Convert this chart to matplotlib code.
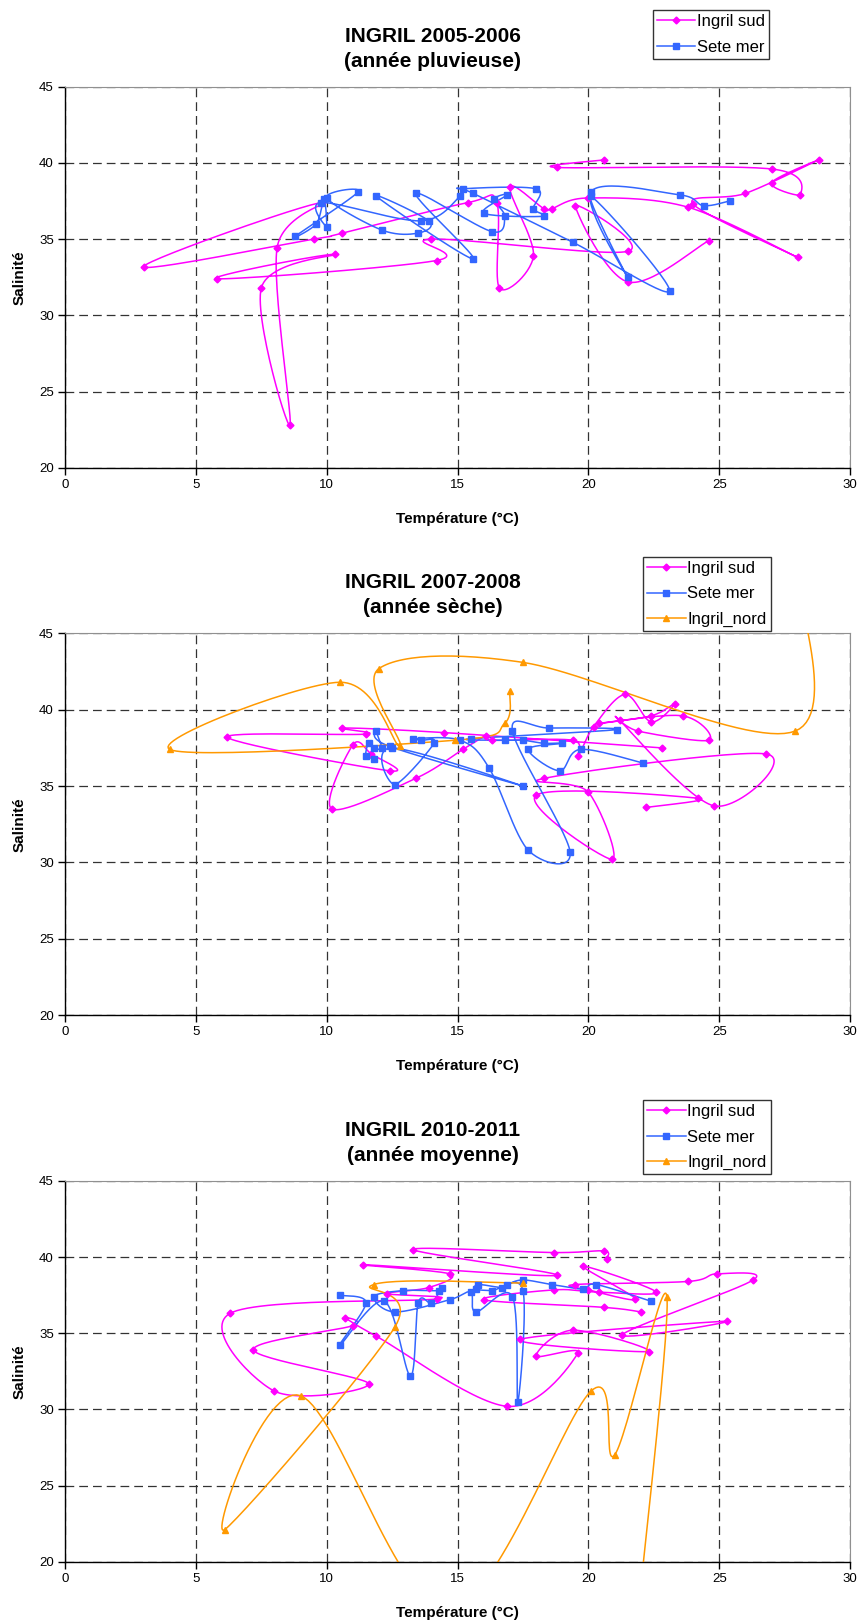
import numpy as np
import matplotlib
matplotlib.use("Agg")
import matplotlib.pyplot as plt
from matplotlib.lines import Line2D

plt.rcParams['font.family'] = ['Liberation Sans', 'DejaVu Sans']

# ---- 2005-2006 (annee pluvieuse) ----
temp_sud_0506 = [20.6, 18.8, 27.0, 28.1, 27.0, 28.8, 26.0, 24.0, 28.0, 23.8, 20.0, 18.6, 18.3, 17.0, 17.9, 16.6, 16.5,
                 15.4, 10.6, 9.5, 3.0, 9.8, 8.1, 8.6, 7.5, 10.3, 5.8, 14.2, 14.0, 21.5, 19.5, 21.5, 24.6]
sal_sud_0506 = [40.2, 39.7, 39.6, 37.9, 38.7, 40.2, 38.0, 37.3, 33.8, 37.1, 37.7, 37.0, 37.0, 38.4, 33.9, 31.8, 37.4,
                37.4, 35.4, 35.0, 33.2, 37.4, 34.4, 22.8, 31.8, 34.0, 32.4, 33.6, 35.0, 34.2, 37.2, 32.2, 34.9]
temp_sete_0506 = [25.4, 24.4, 23.5, 20.1, 21.5, 20.1, 23.1, 19.4, 15.6, 15.2, 18.0, 17.9, 18.3, 16.0, 16.9, 16.4, 16.8,
                  16.3, 13.4, 15.6, 11.9, 13.9, 13.5, 12.1, 10.0, 11.2, 8.8, 9.6, 9.9, 10.0, 9.8, 13.6, 15.1]
sal_sete_0506 = [37.5, 37.2, 37.9, 38.1, 32.5, 37.8, 31.6, 34.8, 38.0, 38.3, 38.3, 37.0, 36.5, 36.7, 37.9, 37.6, 36.5,
                 35.5, 38.0, 33.7, 37.8, 36.2, 35.4, 35.6, 37.7, 38.1, 35.2, 36.0, 37.6, 35.8, 37.4, 36.2, 37.8]

# ---- 2007-2008 (annee seche) ----
temp_sud_0708 = [22.8, 14.5, 10.6, 11.5, 6.2, 12.4, 11.7, 11.0, 10.2, 13.4, 15.2, 16.1, 16.3, 19.4, 19.6, 20.2, 21.4,
                 22.4, 23.3, 22.4, 20.4, 23.6, 24.6, 21.9, 21.2, 24.8, 26.8, 18.3, 20.0, 20.9, 18.0, 24.2, 22.2]
sal_sud_0708 = [37.5, 38.5, 38.8, 38.4, 38.2, 36.0, 37.1, 37.7, 33.5, 35.5, 37.4, 38.3, 38.0, 38.0, 37.0, 38.9, 41.0,
                39.2, 40.4, 39.6, 39.1, 39.6, 38.0, 38.6, 39.3, 33.7, 37.1, 35.5, 34.6, 30.2, 34.4, 34.2, 33.6]
temp_sete_0708 = [11.8, 11.5, 11.6, 11.8, 12.1, 11.9, 12.4, 17.5, 12.5, 12.6, 14.1, 13.6, 13.3, 15.1, 16.2, 17.7, 19.3,
                  17.1, 18.5, 21.1, 15.5, 16.8, 17.5, 18.3, 19.0, 17.7, 18.9, 19.7, 22.1]
sal_sete_0708 = [36.8, 37.0, 37.8, 37.5, 37.5, 38.6, 37.6, 35.0, 37.5, 35.1, 37.8, 38.0, 38.1, 38.0, 36.2, 30.8, 30.7,
                 38.6, 38.8, 38.7, 38.1, 38.0, 38.0, 37.8, 37.8, 37.4, 36.0, 37.4, 36.5]
temp_nord_0708 = [17.0, 16.8, 14.9, 4.0, 10.5, 12.8, 12.0, 17.5, 27.9, 27.8]
sal_nord_0708 = [41.2, 39.1, 38.0, 37.4, 41.8, 37.6, 42.7, 43.1, 38.6, 50.0]

# ---- 2010-2011 (annee moyenne) ----
temp_sud_1011 = [20.7, 20.6, 18.7, 13.3, 18.8, 11.4, 14.7, 13.9, 12.3, 14.2, 6.3, 8.0, 11.6, 7.2, 11.0, 10.7, 11.9,
                 16.9, 19.6, 18.0, 19.4, 22.3, 17.4, 25.3, 21.3, 26.3, 24.9, 23.8, 19.5, 20.0, 21.8, 19.8, 22.6,
                 20.4, 18.7, 16.0, 20.6, 22.0]
sal_sud_1011 = [39.9, 40.4, 40.3, 40.5, 38.8, 39.5, 38.9, 38.0, 37.6, 37.25, 36.3, 31.2, 31.7, 33.9, 35.5, 36.0, 34.8,
                30.2, 33.7, 33.5, 35.2, 33.8, 34.6, 35.8, 34.9, 38.5, 38.9, 38.4, 38.2, 37.85, 37.25, 39.4, 37.7,
                37.7, 37.85, 37.2, 36.7, 36.4]
temp_sete_1011 = [10.5, 11.5, 10.5, 12.2, 13.2, 13.5, 14.0, 14.4, 14.3, 12.9, 11.8, 12.6, 14.7, 15.5, 15.7, 17.1, 17.3,
                  17.5, 16.3, 15.7, 15.8, 16.7, 16.9, 17.5, 18.6, 19.8, 20.3, 22.4]
sal_sete_1011 = [37.5, 37.0, 34.2, 37.1, 32.2, 37.0, 37.0, 38.0, 37.8, 37.8, 37.4, 36.4, 37.2, 37.7, 36.4, 37.4, 30.5,
                 37.8, 37.8, 37.9, 38.2, 38.0, 38.2, 38.5, 38.2, 37.9, 38.2, 37.1]
temp_nord_1011 = [17.5, 11.8, 12.6, 6.1, 9.0, 14.6, 20.1, 21.0, 23.0, 21.8]
sal_nord_1011 = [38.3, 38.2, 35.4, 22.1, 30.9, 16.8, 31.2, 27.0, 37.4, 15.0]

titles = ["INGRIL 2005-2006\n(année pluvieuse)",
          "INGRIL 2007-2008\n(année sèche)",
          "INGRIL 2010-2011\n(année moyenne)"]

MAGENTA = '#FF00FF'
BLUE = '#3366FF'
ORANGE = '#FF9900'


def smooth_curve(x, y, n=30):
    # bezier smoothing through every point (catmull-rom style, like spreadsheet "smoothed lines")
    pts = np.column_stack([x, y]).astype(float)
    P = np.vstack([pts[0], pts, pts[-1]])
    t = np.linspace(0, 1, n)[:, None]
    out = []
    for i in range(1, len(P) - 2):
        p0, p1, p2, p3 = P[i - 1], P[i], P[i + 1], P[i + 2]
        c1 = p1 + (p2 - p0) / 6
        c2 = p2 - (p3 - p1) / 6
        seg = (1 - t) ** 3 * p1 + 3 * (1 - t) ** 2 * t * c1 + 3 * (1 - t) * t ** 2 * c2 + t ** 3 * p2
        out.append(seg)
    seg = np.vstack(out)
    return seg[:, 0], seg[:, 1]


def draw_series(ax, x, y, color, marker, ms):
    sx, sy = smooth_curve(x, y)
    ax.plot(sx, sy, color=color, lw=1.1, zorder=3)
    ax.plot(x, y, linestyle='none', marker=marker, color=color, ms=ms, mec=color, zorder=4)


fig = plt.figure(figsize=(8.59, 16.22), dpi=100)

axes_rects = [[0.0757, 0.7115, 0.9139, 0.2351],
              [0.0757, 0.3742, 0.9139, 0.2353],
              [0.0757, 0.0372, 0.9139, 0.2347]]
title_y = [0.9698, 0.6332, 0.2953]
legend_anchor = [(0.760, 0.9938), (0.7486, 0.6566), (0.7486, 0.3218)]

panels = [
    [(temp_sud_0506, sal_sud_0506), (temp_sete_0506, sal_sete_0506), None],
    [(temp_sud_0708, sal_sud_0708), (temp_sete_0708, sal_sete_0708), (temp_nord_0708, sal_nord_0708)],
    [(temp_sud_1011, sal_sud_1011), (temp_sete_1011, sal_sete_1011), (temp_nord_1011, sal_nord_1011)],
]

for k in range(3):
    ax = fig.add_axes(axes_rects[k])
    sud, sete, nord = panels[k]
    draw_series(ax, sud[0], sud[1], MAGENTA, 'D', 3.5)
    draw_series(ax, sete[0], sete[1], BLUE, 's', 5)
    handles = [Line2D([], [], color=MAGENTA, marker='D', ms=3.5, lw=1.1),
               Line2D([], [], color=BLUE, marker='s', ms=5, lw=1.1)]
    labels = ['Ingril sud', 'Sete mer']
    if nord is not None:
        draw_series(ax, nord[0], nord[1], ORANGE, '^', 5)
        handles.append(Line2D([], [], color=ORANGE, marker='^', ms=5, lw=1.1))
        labels.append('Ingril_nord')

    ax.set_xlim(0, 30)
    ax.set_ylim(20, 45)
    ax.set_xticks(range(0, 31, 5))
    ax.set_yticks(range(20, 46, 5))
    ax.grid(True, color='#333333', linestyle=(0, (7, 4)), linewidth=0.9)
    ax.set_axisbelow(True)
    for side in ['top', 'right']:
        ax.spines[side].set_color('#909090')
    for side in ['left', 'bottom']:
        ax.spines[side].set_color('black')
        ax.spines[side].set_linewidth(1.0)
    ax.tick_params(direction='out', length=5, width=1, labelsize=9.5, pad=3)
    ax.set_xlabel('Température (°C)', fontsize=11, fontweight='bold', labelpad=15)
    ax.set_ylabel('Salinité', fontsize=11, fontweight='bold', labelpad=9)

    fig.text(0.504, title_y[k], titles[k], ha='center', va='center', fontsize=15,
             fontweight='bold', linespacing=1.45)

    leg = fig.legend(handles, labels, loc='upper left', bbox_to_anchor=legend_anchor[k],
                     fontsize=12, frameon=True, fancybox=False, borderpad=0.25,
                     labelspacing=0.62, handlelength=2.3, handletextpad=0.1,
                     borderaxespad=0)
    leg.get_frame().set_edgecolor('black')
    leg.get_frame().set_linewidth(1.0)

fig.savefig('out.png', dpi=100)
